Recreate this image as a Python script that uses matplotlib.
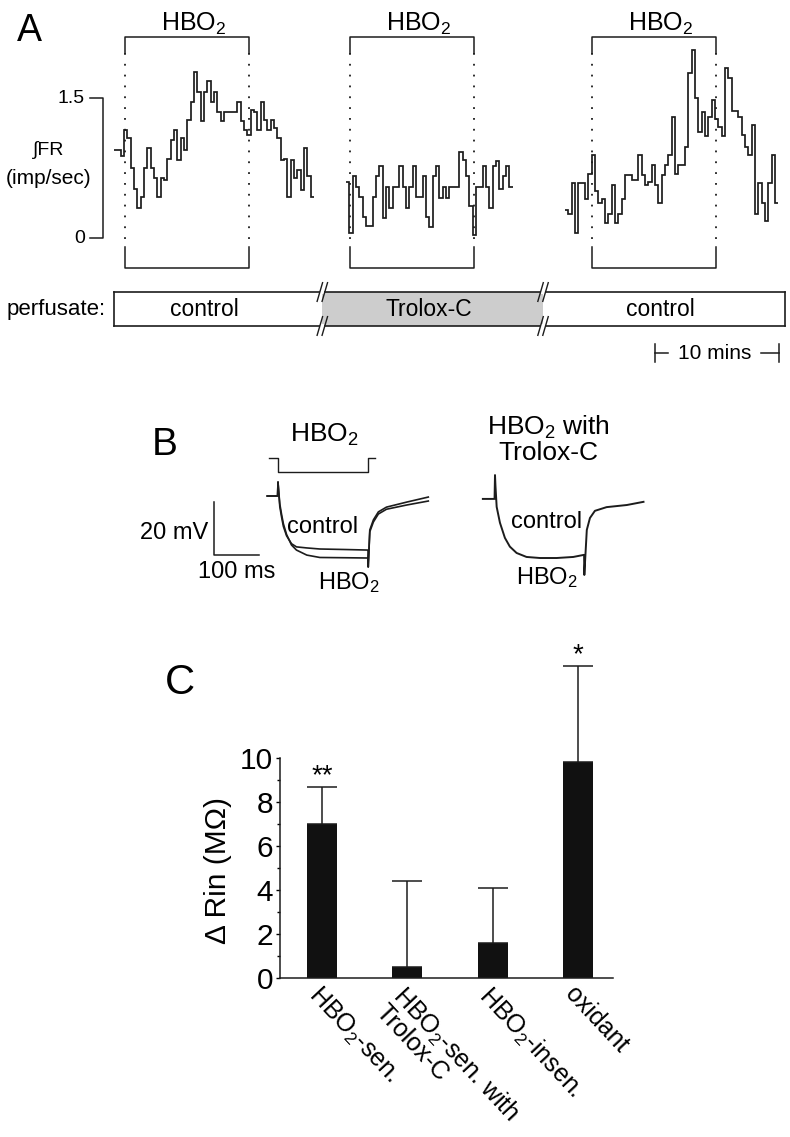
import numpy as np
import matplotlib
matplotlib.use("Agg")
import matplotlib.pyplot as plt
from matplotlib.patches import Rectangle

plt.rcParams['font.family'] = ['Liberation Sans', 'DejaVu Sans']
plt.rcParams['mathtext.fontset'] = 'custom'
plt.rcParams['mathtext.rm'] = 'Liberation Sans'
plt.rcParams['mathtext.it'] = 'Liberation Sans:italic'
plt.rcParams['mathtext.bf'] = 'Liberation Sans:bold'
plt.rcParams['mathtext.default'] = 'regular'

W, H = 790, 1137
INK = '#1c1c1c'
HBO2 = 'HBO$_2$'

# ---------------- panel A: integrated firing rate (imp/sec), one value per bin
bin_min = 0.269
fr_control = [0.94, 0.94, 0.88, 1.16, 1.07, 0.75, 0.53, 0.32, 0.44, 0.75,
              0.96, 0.75, 0.64, 0.44, 0.64, 0.62, 0.85, 1.05, 1.16, 0.84,
              1.07, 0.94, 1.26, 1.46, 1.78, 1.57, 1.25, 1.57, 1.68, 1.46,
              1.57, 1.35, 1.25, 1.35, 1.35, 1.35, 1.35, 1.46, 1.25, 1.16,
              1.10, 1.37, 1.35, 1.16, 1.46, 1.27, 1.16, 1.27, 1.18, 1.07,
              0.84, 0.85, 0.44, 0.84, 0.64, 0.73, 0.51, 0.96, 0.66, 0.44]
fr_trolox = [0.60, 0.05, 0.66, 0.55, 0.44, 0.23, 0.13, 0.13, 0.44, 0.66,
             0.77, 0.21, 0.55, 0.32, 0.55, 0.55, 0.77, 0.55, 0.32, 0.55,
             0.77, 0.44, 0.44, 0.66, 0.23, 0.12, 0.66, 0.77, 0.43, 0.55,
             0.43, 0.55, 0.55, 0.55, 0.92, 0.84, 0.66, 0.34, 0.03, 0.55,
             0.55, 0.77, 0.55, 0.32, 0.77, 0.82, 0.53, 0.66, 0.77, 0.55]
fr_washout = [0.30, 0.26, 0.59, 0.05, 0.59, 0.59, 0.42, 0.69, 0.89, 0.50,
              0.37, 0.42, 0.16, 0.26, 0.57, 0.16, 0.26, 0.42, 0.68, 0.68,
              0.62, 0.62, 0.89, 0.68, 0.57, 0.60, 0.78, 0.57, 0.37, 0.68,
              0.78, 0.89, 1.30, 0.69, 0.78, 0.78, 0.98, 1.77, 2.02, 1.50,
              1.14, 1.35, 1.09, 1.30, 1.48, 1.28, 1.19, 1.09, 1.82, 1.71,
              1.36, 1.36, 1.30, 1.10, 0.98, 0.89, 1.21, 0.26, 0.59, 0.37,
              0.18, 0.59, 0.89, 0.37]
trace_start = [0.0, 18.71, 36.37]      # min
hbo2_on = [0.89, 19.03, 38.55]         # min
hbo2_dur = 10.0
perf_edges = [0.0, 16.8, 34.6, 54.1]
perf_labels = ['control', 'Trolox-C', 'control']
perf_label_t = [7.3, 25.4, 44.1]

# ---------------- panel B: membrane potential (mV from rest) vs time (ms)
t_left = [-24, -1, 0, 1, 4, 8, 12, 19, 30, 41, 64, 93, 150, 200, 200.5,
          204, 212, 223, 241, 286, 334]
v_ctrl = [0, 0, 5.3, 3, -4, -8, -11.5, -15, -18, -19.2, -19.6, -20, -20.2,
          -20.4, -26.8, -12.8, -9, -6, -4.2, -2.3, -0.4]
v_hbo2 = [0, 0, 5.3, 3, -3, -7, -10.5, -14.5, -18.5, -20.4, -22.3, -23.2,
          -23.3, -23.4, -26.8, -13.5, -9.8, -6.8, -5, -3.4, -1.9]
t_right = [-27, -1, 0, 1, 3.7, 11, 22, 33, 48, 70, 100, 137, 174, 198, 198.5,
           204, 211, 222, 248, 293, 330]
v_trolox = [0, 0, 9, 5, -3, -9, -14.7, -18, -20.4, -21.9, -22.3, -22.3,
            -21.9, -21.1, -28.7, -11.7, -7.2, -4.5, -3.1, -2.3, -1.1]
pulse_ms = 200

# ---------------- panel C: change in input resistance
groups = [HBO2 + '-sen.', HBO2 + '-sen. with\nTrolox-C', HBO2 + '-insen.', 'oxidant']
d_rin = [7.0, 0.5, 1.6, 9.8]
d_rin_err = [1.7, 3.9, 2.5, 4.4]
stars = ['**', '', '', '*']

fig = plt.figure(figsize=(W / 100, H / 100), dpi=100)

# ===== panel A (x: minutes, y: imp/sec)
ax_a = fig.add_axes([0, 1 - 400 / H, 1, 400 / H])
ax_a.set_xlim((0 - 114) / 12.4, (W - 114) / 12.4)
ax_a.set_ylim((238 - 400) / 93.3, 238 / 93.3)
ax_a.axis('off')

for start, vals in zip(trace_start, [fr_control, fr_trolox, fr_washout]):
    edges = start + bin_min * np.arange(len(vals) + 1)
    ax_a.stairs(vals, edges, baseline=None, color=INK, lw=1.25)

top, top_drop, dot_low, bot_hi, bot = 2.154, 1.98, -0.08, -0.10, -0.32
for on in hbo2_on:
    off = on + hbo2_dur
    ax_a.plot([on, on, off, off], [top_drop, top, top, top_drop], color=INK, lw=1.1)
    ax_a.plot([on, on, off, off], [bot_hi, bot, bot, bot_hi], color=INK, lw=1.1)
    for xx in (on, off):
        ax_a.plot([xx, xx], [top_drop, dot_low], color=INK, lw=1.3,
                  linestyle=(0, (1, 5)))
    ax_a.text(on + hbo2_dur / 2 + 0.5, 2.30, HBO2, ha='center', va='center', fontsize=18)

# FR scale bar
ax_a.plot([-1.94, -0.89, -0.89, -1.94], [1.5, 1.5, 0, 0], color=INK, lw=1.1)
ax_a.text(-2.34, 1.5, '1.5', ha='right', va='center', fontsize=14)
ax_a.text(-2.34, 0, '0', ha='right', va='center', fontsize=14)
ax_a.text(-5.24, 0.94, '∫FR', ha='center', va='center', fontsize=14)
ax_a.text(-5.24, 0.64, '(imp/sec)', ha='center', va='center', fontsize=15)
ax_a.text(-6.85, 2.22, 'A', ha='center', va='center', fontsize=27)

# perfusate bar
y_lo, y_hi = -0.943, -0.579
ax_a.add_patch(Rectangle((perf_edges[1], y_lo), perf_edges[2] - perf_edges[1],
                         y_hi - y_lo, facecolor='#cdcdcd', edgecolor='none'))
ax_a.plot([perf_edges[0], perf_edges[-1]], [y_hi, y_hi], color=INK, lw=1.2)
ax_a.plot([perf_edges[0], perf_edges[-1]], [y_lo, y_lo], color=INK, lw=1.2)
ax_a.plot([perf_edges[0]] * 2, [y_lo, y_hi], color=INK, lw=1.2)
ax_a.plot([perf_edges[-1]] * 2, [y_lo, y_hi], color=INK, lw=1.2)
for b in perf_edges[1:3]:
    for yy in (y_lo, y_hi):
        ax_a.add_patch(Rectangle((b - 0.17, yy - 0.02), 0.34, 0.04,
                                 facecolor='white', edgecolor='none', zorder=3))
        for dx in (-0.2, 0.2):
            ax_a.plot([b + dx - 0.22, b + dx + 0.22], [yy - 0.10, yy + 0.10],
                      color=INK, lw=1.0, zorder=4)
for t, lab in zip(perf_label_t, perf_labels):
    ax_a.text(t, (y_lo + y_hi) / 2, lab, ha='center', va='center', fontsize=16.5)
ax_a.text(-0.65, (y_lo + y_hi) / 2, 'perfusate:', ha='right', va='center', fontsize=16)

# 10 min scale
ax_a.plot([43.6, 43.6], [-1.14, -1.33], color=INK, lw=1.1)
ax_a.plot([53.6, 53.6], [-1.14, -1.33], color=INK, lw=1.1)
ax_a.plot([43.6, 44.7], [-1.233, -1.233], color=INK, lw=1.1)
ax_a.plot([52.2, 53.6], [-1.233, -1.233], color=INK, lw=1.1)
ax_a.text(48.45, -1.233, '10 mins', ha='center', va='center', fontsize=15)

# ===== panel B (x: ms, y: mV)
ax_b = fig.add_axes([0, 1 - 620 / H, 1, 220 / H])
ax_b.set_xlim((0 - 278) / 0.45, (W - 278) / 0.45)
ax_b.set_ylim(-(620 - 496) / 2.65, -(400 - 496) / 2.65)
ax_b.axis('off')
right_offset = (495 - 278) / 0.45

ax_b.plot(t_left, v_ctrl, color=INK, lw=1.2)
ax_b.plot(t_left, v_hbo2, color=INK, lw=1.2)
ax_b.plot(np.array(t_right) + right_offset, np.array(v_trolox) - 1.1, color=INK, lw=1.4)

ax_b.plot([-20, 0, 0, pulse_ms, pulse_ms, pulse_ms + 16],
          [14.3, 14.3, 9.1, 9.1, 14.3, 14.3], color=INK, lw=1.0)
ax_b.plot([-142, -142, -42], [-2.3, -22.3, -22.3], color=INK, lw=1.1)

ax_b.text(-251, 19.2, 'B', ha='center', va='center', fontsize=28)
ax_b.text(104, 23, HBO2, ha='center', va='center', fontsize=19)
ax_b.text(-156, -14, '20 mV', ha='right', va='center', fontsize=17)
ax_b.text(-91, -28.7, '100 ms', ha='center', va='center', fontsize=17)
ax_b.text(98, -11.7, 'control', ha='center', va='center', fontsize=17)
ax_b.text(158, -32.8, HBO2, ha='center', va='center', fontsize=17)
ax_b.text(600, 21.5, HBO2 + ' with\nTrolox-C', ha='center', va='center',
          fontsize=19, linespacing=1.0)
ax_b.text(596, -9.8, 'control', ha='center', va='center', fontsize=17)
ax_b.text(598, -30.6, HBO2, ha='center', va='center', fontsize=17)

# ===== panel C
ax_c = fig.add_axes([280 / W, (H - 978) / H, 333 / W, 330 / H])
x = np.arange(len(groups))
ax_c.bar(x, d_rin, width=0.35, color='#111111')
ax_c.errorbar(x, d_rin, yerr=[np.zeros(len(x)), d_rin_err], fmt='none',
              ecolor=INK, elinewidth=1.1, capsize=11, capthick=1.1)
for xi, v, e, s in zip(x, d_rin, d_rin_err, stars):
    if s:
        ax_c.text(xi, v + e + 0.45, s, ha='center', va='center', fontsize=20)

ax_c.set_xlim(-0.49, 3.41)
ax_c.set_ylim(0, 15)
ax_c.spines['top'].set_visible(False)
ax_c.spines['right'].set_visible(False)
ax_c.spines['left'].set_bounds(0, 10)
for sp in ('left', 'bottom'):
    ax_c.spines[sp].set_linewidth(1.1)
    ax_c.spines[sp].set_color(INK)
ax_c.set_yticks(np.arange(0, 11, 2))
ax_c.set_yticks(np.arange(1, 10, 2), minor=True)
ax_c.tick_params(axis='y', which='major', length=3, width=1, pad=2, labelsize=21.5)
ax_c.tick_params(axis='y', which='minor', length=2, width=1)
ax_c.set_xticks(x)
ax_c.set_xticklabels(groups, rotation=-47, ha='left', va='top',
                     rotation_mode='anchor', fontsize=18, linespacing=0.95)
ax_c.tick_params(axis='x', length=0, pad=3)
ax_c.set_ylabel('Δ Rin (MΩ)', fontsize=21.5, va='center')
ax_c.yaxis.set_label_coords(-0.186, 0.327)

fig.text(180 / W, 1 - 683 / H, 'C', ha='center', va='center', fontsize=30)

fig.savefig('out.png', dpi=100, facecolor='white')
